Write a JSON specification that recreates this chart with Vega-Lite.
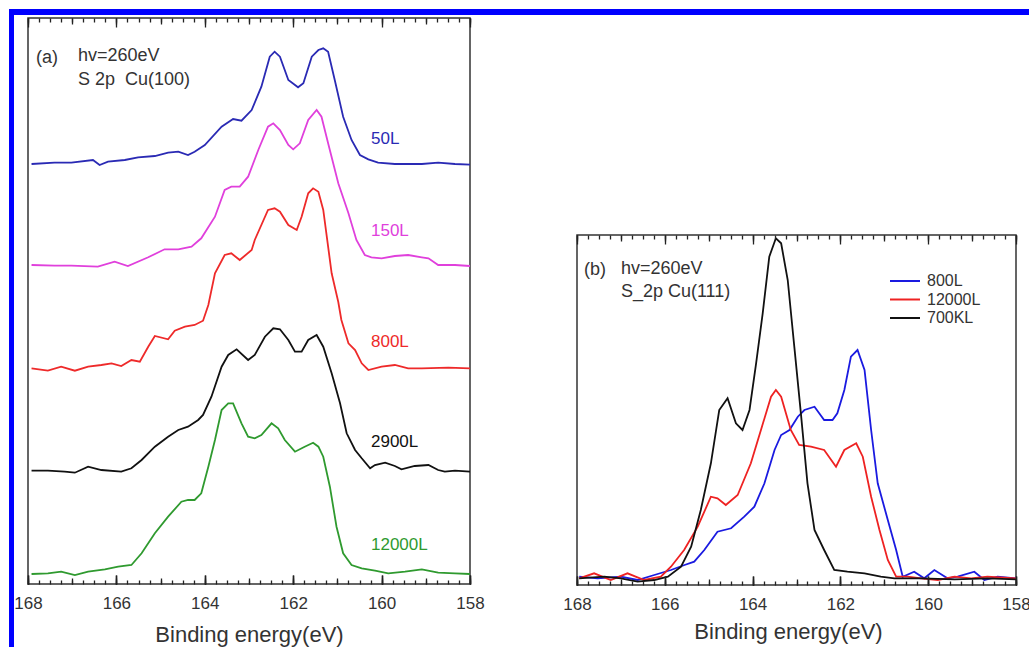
{
  "$schema": "https://vega.github.io/schema/vega-lite/v6.json",
  "padding": {"left": 8, "top": 9, "right": 0, "bottom": 0},
  "autosize": {"type": "pad"},
  "background": "white",
  "config": {
    "font": "Liberation Sans",
    "view": {"stroke": null},
    "concat": {"spacing": 0},
    "axis": {"tickColor": "#222222", "tickWidth": 1.5, "domain": false, "labelColor": "#333333", "titleColor": "#333333", "gridColor": "#222222", "gridWidth": 1.3, "gridOpacity": 1}
  },
  "datasets": {
    "a": [
      {"s":"50L","E":167.92,"I":420},{"s":"50L","E":167.40,"I":421.3},{"s":"50L","E":167.02,"I":421.3},{"s":"50L","E":166.53,"I":424},{"s":"50L","E":166.38,"I":419},{"s":"50L","E":166.19,"I":422.3},{"s":"50L","E":165.81,"I":424},{"s":"50L","E":165.51,"I":426.7},{"s":"50L","E":165.13,"I":428},{"s":"50L","E":164.83,"I":431.3},{"s":"50L","E":164.60,"I":432.3},{"s":"50L","E":164.38,"I":429},{"s":"50L","E":164.23,"I":432.3},{"s":"50L","E":164.00,"I":439},{"s":"50L","E":163.62,"I":457.3},{"s":"50L","E":163.36,"I":465},{"s":"50L","E":163.17,"I":463.3},{"s":"50L","E":162.94,"I":474},{"s":"50L","E":162.72,"I":497.3},{"s":"50L","E":162.53,"I":527.3},{"s":"50L","E":162.42,"I":532.3},{"s":"50L","E":162.30,"I":527.3},{"s":"50L","E":162.11,"I":504},{"s":"50L","E":161.89,"I":496.7},{"s":"50L","E":161.77,"I":500.7},{"s":"50L","E":161.58,"I":527.3},{"s":"50L","E":161.43,"I":534},{"s":"50L","E":161.32,"I":535.7},{"s":"50L","E":161.21,"I":532.3},{"s":"50L","E":161.06,"I":504},{"s":"50L","E":160.87,"I":467.3},{"s":"50L","E":160.68,"I":444},{"s":"50L","E":160.49,"I":429},{"s":"50L","E":160.30,"I":424.7},{"s":"50L","E":160.08,"I":421.3},{"s":"50L","E":159.70,"I":420},{"s":"50L","E":159.09,"I":420},{"s":"50L","E":158.72,"I":421.3},{"s":"50L","E":158.34,"I":420},{"s":"50L","E":158.00,"I":419.3},
      {"s":"150L","E":167.92,"I":319},{"s":"150L","E":167.40,"I":318.3},{"s":"150L","E":167.02,"I":318.3},{"s":"150L","E":166.42,"I":317.3},{"s":"150L","E":166.04,"I":322.3},{"s":"150L","E":165.74,"I":318},{"s":"150L","E":165.28,"I":326.7},{"s":"150L","E":164.91,"I":334.7},{"s":"150L","E":164.60,"I":334.7},{"s":"150L","E":164.30,"I":337.3},{"s":"150L","E":164.08,"I":345.7},{"s":"150L","E":163.77,"I":367.3},{"s":"150L","E":163.55,"I":394},{"s":"150L","E":163.40,"I":397.3},{"s":"150L","E":163.21,"I":397.3},{"s":"150L","E":163.02,"I":407.3},{"s":"150L","E":162.79,"I":434},{"s":"150L","E":162.57,"I":457.3},{"s":"150L","E":162.45,"I":460.7},{"s":"150L","E":162.30,"I":454},{"s":"150L","E":162.11,"I":439},{"s":"150L","E":162.00,"I":434.7},{"s":"150L","E":161.85,"I":440.7},{"s":"150L","E":161.66,"I":464},{"s":"150L","E":161.47,"I":474},{"s":"150L","E":161.36,"I":467.3},{"s":"150L","E":161.21,"I":440.7},{"s":"150L","E":160.98,"I":400.7},{"s":"150L","E":160.75,"I":370.7},{"s":"150L","E":160.57,"I":344},{"s":"150L","E":160.38,"I":329},{"s":"150L","E":160.23,"I":326.7},{"s":"150L","E":160.00,"I":325.7},{"s":"150L","E":159.70,"I":328},{"s":"150L","E":159.40,"I":329},{"s":"150L","E":159.09,"I":326.7},{"s":"150L","E":158.94,"I":325.7},{"s":"150L","E":158.72,"I":319},{"s":"150L","E":158.34,"I":319},{"s":"150L","E":158.00,"I":318},
      {"s":"800L","E":167.92,"I":215.7},{"s":"800L","E":167.55,"I":213.3},{"s":"800L","E":167.25,"I":217.3},{"s":"800L","E":166.94,"I":213.3},{"s":"800L","E":166.64,"I":217.3},{"s":"800L","E":166.34,"I":219},{"s":"800L","E":166.11,"I":220.7},{"s":"800L","E":165.89,"I":218},{"s":"800L","E":165.66,"I":224},{"s":"800L","E":165.47,"I":222.3},{"s":"800L","E":165.28,"I":237.3},{"s":"800L","E":165.13,"I":248},{"s":"800L","E":164.83,"I":244.7},{"s":"800L","E":164.68,"I":253.3},{"s":"800L","E":164.45,"I":257.3},{"s":"800L","E":164.23,"I":259},{"s":"800L","E":164.04,"I":263.3},{"s":"800L","E":163.92,"I":279},{"s":"800L","E":163.77,"I":310.7},{"s":"800L","E":163.55,"I":329},{"s":"800L","E":163.40,"I":330.7},{"s":"800L","E":163.21,"I":324},{"s":"800L","E":162.94,"I":334},{"s":"800L","E":162.87,"I":344},{"s":"800L","E":162.57,"I":374},{"s":"800L","E":162.42,"I":375.7},{"s":"800L","E":162.30,"I":372.3},{"s":"800L","E":162.11,"I":359},{"s":"800L","E":161.92,"I":354},{"s":"800L","E":161.81,"I":367.3},{"s":"800L","E":161.66,"I":390.7},{"s":"800L","E":161.55,"I":395.7},{"s":"800L","E":161.43,"I":392.3},{"s":"800L","E":161.32,"I":374},{"s":"800L","E":161.13,"I":310.7},{"s":"800L","E":160.98,"I":282},{"s":"800L","E":160.91,"I":264},{"s":"800L","E":160.75,"I":240.7},{"s":"800L","E":160.60,"I":234},{"s":"800L","E":160.45,"I":220.7},{"s":"800L","E":160.30,"I":214},{"s":"800L","E":160.00,"I":217.3},{"s":"800L","E":159.70,"I":219},{"s":"800L","E":159.40,"I":215.7},{"s":"800L","E":159.09,"I":215.7},{"s":"800L","E":158.49,"I":216.3},{"s":"800L","E":158.00,"I":215.7},
      {"s":"2900L","E":167.92,"I":113.3},{"s":"2900L","E":167.55,"I":113.3},{"s":"2900L","E":167.17,"I":112.3},{"s":"2900L","E":166.94,"I":111.3},{"s":"2900L","E":166.64,"I":117.3},{"s":"2900L","E":166.34,"I":114},{"s":"2900L","E":165.89,"I":112.3},{"s":"2900L","E":165.66,"I":115.7},{"s":"2900L","E":165.43,"I":124},{"s":"2900L","E":165.13,"I":137.3},{"s":"2900L","E":164.83,"I":147.3},{"s":"2900L","E":164.60,"I":154},{"s":"2900L","E":164.38,"I":157.3},{"s":"2900L","E":164.15,"I":164},{"s":"2900L","E":164.04,"I":169},{"s":"2900L","E":163.85,"I":187.3},{"s":"2900L","E":163.62,"I":217.3},{"s":"2900L","E":163.47,"I":229},{"s":"2900L","E":163.28,"I":234.7},{"s":"2900L","E":163.02,"I":224},{"s":"2900L","E":162.87,"I":229},{"s":"2900L","E":162.64,"I":247.3},{"s":"2900L","E":162.45,"I":255.7},{"s":"2900L","E":162.30,"I":254.7},{"s":"2900L","E":162.11,"I":244},{"s":"2900L","E":161.96,"I":232.3},{"s":"2900L","E":161.81,"I":232.3},{"s":"2900L","E":161.66,"I":244},{"s":"2900L","E":161.47,"I":249},{"s":"2900L","E":161.32,"I":237.3},{"s":"2900L","E":161.13,"I":210.7},{"s":"2900L","E":160.94,"I":180.7},{"s":"2900L","E":160.79,"I":150.7},{"s":"2900L","E":160.60,"I":134},{"s":"2900L","E":160.45,"I":125.7},{"s":"2900L","E":160.26,"I":115.7},{"s":"2900L","E":160.15,"I":119},{"s":"2900L","E":159.92,"I":121.3},{"s":"2900L","E":159.70,"I":118},{"s":"2900L","E":159.55,"I":114.7},{"s":"2900L","E":159.25,"I":118},{"s":"2900L","E":158.94,"I":119},{"s":"2900L","E":158.72,"I":114},{"s":"2900L","E":158.57,"I":112.3},{"s":"2900L","E":158.34,"I":113.3},{"s":"2900L","E":158.00,"I":112.3},
      {"s":"12000L","E":167.92,"I":10},{"s":"12000L","E":167.55,"I":10.7},{"s":"12000L","E":167.25,"I":12.3},{"s":"12000L","E":166.94,"I":9},{"s":"12000L","E":166.64,"I":12.3},{"s":"12000L","E":166.26,"I":14.7},{"s":"12000L","E":165.96,"I":17.3},{"s":"12000L","E":165.66,"I":19},{"s":"12000L","E":165.43,"I":30.7},{"s":"12000L","E":165.13,"I":50.7},{"s":"12000L","E":164.83,"I":67.3},{"s":"12000L","E":164.53,"I":82.3},{"s":"12000L","E":164.38,"I":84},{"s":"12000L","E":164.23,"I":84},{"s":"12000L","E":164.08,"I":90.7},{"s":"12000L","E":163.92,"I":117.3},{"s":"12000L","E":163.77,"I":144},{"s":"12000L","E":163.62,"I":174},{"s":"12000L","E":163.47,"I":180.7},{"s":"12000L","E":163.36,"I":180.7},{"s":"12000L","E":163.17,"I":160.7},{"s":"12000L","E":163.02,"I":147.3},{"s":"12000L","E":162.87,"I":145.7},{"s":"12000L","E":162.72,"I":149},{"s":"12000L","E":162.49,"I":160.7},{"s":"12000L","E":162.34,"I":155.7},{"s":"12000L","E":162.19,"I":144},{"s":"12000L","E":161.96,"I":132.3},{"s":"12000L","E":161.74,"I":137.3},{"s":"12000L","E":161.55,"I":141.3},{"s":"12000L","E":161.43,"I":137.3},{"s":"12000L","E":161.32,"I":127.3},{"s":"12000L","E":161.17,"I":97.3},{"s":"12000L","E":161.02,"I":57.3},{"s":"12000L","E":160.87,"I":30.7},{"s":"12000L","E":160.68,"I":19},{"s":"12000L","E":160.45,"I":15.7},{"s":"12000L","E":160.15,"I":13.3},{"s":"12000L","E":159.85,"I":10.7},{"s":"12000L","E":159.47,"I":12.3},{"s":"12000L","E":159.09,"I":14.7},{"s":"12000L","E":158.72,"I":11.3},{"s":"12000L","E":158.34,"I":10.7},{"s":"12000L","E":158.00,"I":10}
    ],
    "alab": [
      {"s":"50L","E":160.24,"I":445},
      {"s":"150L","E":160.24,"I":353},
      {"s":"800L","E":160.24,"I":242},
      {"s":"2900L","E":160.24,"I":142},
      {"s":"12000L","E":160.24,"I":39}
    ],
    "aanno": [
      {"t":"(a)","E":167.82,"I":526},
      {"t":"hv=260eV","E":166.87,"I":528},
      {"t":"S 2p\u00a0 Cu(100)","E":166.87,"I":504}
    ],
    "b": [
      {"s":"800L","E":167.95,"I":8.3},{"s":"800L","E":167.53,"I":6.7},{"s":"800L","E":167.00,"I":8.3},{"s":"800L","E":166.62,"I":5},{"s":"800L","E":166.24,"I":10},{"s":"800L","E":165.86,"I":15},{"s":"800L","E":165.55,"I":20},{"s":"800L","E":165.33,"I":23.3},{"s":"800L","E":165.10,"I":35},{"s":"800L","E":164.80,"I":53.3},{"s":"800L","E":164.49,"I":56.7},{"s":"800L","E":164.19,"I":68.3},{"s":"800L","E":163.96,"I":78.3},{"s":"800L","E":163.73,"I":101.7},{"s":"800L","E":163.50,"I":135},{"s":"800L","E":163.35,"I":150},{"s":"800L","E":163.16,"I":155},{"s":"800L","E":162.97,"I":168.3},{"s":"800L","E":162.82,"I":175},{"s":"800L","E":162.59,"I":178.3},{"s":"800L","E":162.37,"I":165},{"s":"800L","E":162.18,"I":165},{"s":"800L","E":162.07,"I":171.7},{"s":"800L","E":161.91,"I":195},{"s":"800L","E":161.76,"I":228.3},{"s":"800L","E":161.61,"I":235},{"s":"800L","E":161.45,"I":215},{"s":"800L","E":161.30,"I":155},{"s":"800L","E":161.15,"I":101.7},{"s":"800L","E":160.92,"I":65},{"s":"800L","E":160.73,"I":35},{"s":"800L","E":160.58,"I":8.3},{"s":"800L","E":160.32,"I":13.3},{"s":"800L","E":160.09,"I":6.7},{"s":"800L","E":159.86,"I":15},{"s":"800L","E":159.56,"I":6.7},{"s":"800L","E":159.33,"I":8.3},{"s":"800L","E":158.95,"I":13.3},{"s":"800L","E":158.72,"I":5},{"s":"800L","E":158.42,"I":8.3},{"s":"800L","E":158.00,"I":6.7},
      {"s":"12000L","E":167.95,"I":6.7},{"s":"12000L","E":167.61,"I":11.7},{"s":"12000L","E":167.23,"I":5},{"s":"12000L","E":166.85,"I":11.7},{"s":"12000L","E":166.47,"I":5},{"s":"12000L","E":166.09,"I":8.3},{"s":"12000L","E":165.86,"I":18.3},{"s":"12000L","E":165.56,"I":35},{"s":"12000L","E":165.25,"I":58.3},{"s":"12000L","E":164.95,"I":88.3},{"s":"12000L","E":164.80,"I":86.7},{"s":"12000L","E":164.61,"I":80},{"s":"12000L","E":164.34,"I":90},{"s":"12000L","E":164.04,"I":121.7},{"s":"12000L","E":163.81,"I":155},{"s":"12000L","E":163.58,"I":188.3},{"s":"12000L","E":163.47,"I":195},{"s":"12000L","E":163.35,"I":188.3},{"s":"12000L","E":163.13,"I":155},{"s":"12000L","E":162.94,"I":140},{"s":"12000L","E":162.67,"I":138.3},{"s":"12000L","E":162.37,"I":135},{"s":"12000L","E":162.10,"I":118.3},{"s":"12000L","E":161.91,"I":135},{"s":"12000L","E":161.64,"I":141.7},{"s":"12000L","E":161.49,"I":128.3},{"s":"12000L","E":161.30,"I":88.3},{"s":"12000L","E":161.11,"I":55},{"s":"12000L","E":160.92,"I":25},{"s":"12000L","E":160.73,"I":8.3},{"s":"12000L","E":160.47,"I":8.3},{"s":"12000L","E":160.16,"I":6.7},{"s":"12000L","E":159.78,"I":5},{"s":"12000L","E":159.40,"I":8.3},{"s":"12000L","E":159.02,"I":6.7},{"s":"12000L","E":158.65,"I":8.3},{"s":"12000L","E":158.00,"I":6.7},
      {"s":"700KL","E":167.95,"I":6.7},{"s":"700KL","E":167.38,"I":8.3},{"s":"700KL","E":167.00,"I":6.7},{"s":"700KL","E":166.62,"I":3.3},{"s":"700KL","E":166.24,"I":5},{"s":"700KL","E":165.93,"I":8.3},{"s":"700KL","E":165.63,"I":18.3},{"s":"700KL","E":165.40,"I":38.3},{"s":"700KL","E":165.18,"I":75},{"s":"700KL","E":164.95,"I":121.7},{"s":"700KL","E":164.76,"I":175},{"s":"700KL","E":164.57,"I":186.7},{"s":"700KL","E":164.38,"I":161.7},{"s":"700KL","E":164.23,"I":155},{"s":"700KL","E":164.07,"I":175},{"s":"700KL","E":163.92,"I":221.7},{"s":"700KL","E":163.77,"I":271.7},{"s":"700KL","E":163.62,"I":328.3},{"s":"700KL","E":163.47,"I":346.7},{"s":"700KL","E":163.35,"I":341.7},{"s":"700KL","E":163.20,"I":305},{"s":"700KL","E":163.05,"I":238.3},{"s":"700KL","E":162.90,"I":171.7},{"s":"700KL","E":162.75,"I":101.7},{"s":"700KL","E":162.59,"I":55},{"s":"700KL","E":162.37,"I":35},{"s":"700KL","E":162.14,"I":15},{"s":"700KL","E":161.84,"I":13.3},{"s":"700KL","E":161.45,"I":11.7},{"s":"700KL","E":161.08,"I":8.3},{"s":"700KL","E":160.77,"I":6.7},{"s":"700KL","E":160.16,"I":6.7},{"s":"700KL","E":159.40,"I":5.7},{"s":"700KL","E":158.65,"I":6.7},{"s":"700KL","E":158.00,"I":5.7}
    ],
    "banno": [
      {"t":"(b)","E":167.84,"I":315},
      {"t":"hv=260eV","E":167.0,"I":316},
      {"t":"S_2p Cu(111)","E":167.0,"I":293}
    ],
    "pt": [{"E":163, "I":100}]
  },
  "bounds": "flush",
  "spacing": 0,
  "resolve": {"scale": {"color": "independent"}, "legend": {"color": "independent"}},
  "hconcat": [
    {
      "width": 5, "height": 638,
      "data": {"values": [{}]},
      "mark": {"type": "point", "opacity": 0},
      "view": {"fill": "#0000ff", "stroke": null}
    },
    {
      "bounds": "flush",
      "spacing": 3,
      "resolve": {"scale": {"color": "independent"}, "legend": {"color": "independent"}},
      "vconcat": [
        {
          "width": 1016, "height": 6,
          "data": {"values": [{}]},
          "mark": {"type": "point", "opacity": 0},
          "view": {"fill": "#0000ff", "stroke": null}
        },
        {
          "bounds": "flush",
          "spacing": 0,
          "resolve": {"scale": {"color": "independent"}, "legend": {"color": "independent"}},
          "hconcat": [
            {
              "width": 14, "height": 10,
              "data": {"values": [{}]},
              "mark": {"type": "point", "opacity": 0},
              "view": {"stroke": null}
            },
            {
              "width": 442, "height": 566,
              "view": {"stroke": "#333333", "strokeWidth": 1.5, "fill": null},
              "resolve": {"axis": {"x": "independent"}},
              "layer": [
                {
                  "data": {"name": "a"},
                  "mark": {"type": "line", "strokeWidth": 1.8},
                  "encoding": {
                    "x": {"field": "E", "type": "quantitative",
                      "scale": {"domain": [158, 168], "reverse": true, "nice": false, "zero": false},
                      "axis": {"orient": "bottom", "offset": -9, "tickSize": 9, "ticks": true, "zindex": 1,
                        "grid": true, "gridDash": [9, 548],
                        "values": [158, 160, 162, 164, 166, 168], "format": "d",
                        "labelOverlap": false, "labelFlush": false, "labelBound": false,
                        "labelFontSize": 17, "labelPadding": 11,
                        "title": "Binding energy(eV)", "titleFontSize": 22, "titleFontWeight": "normal",
                        "titlePadding": 13
                      }},
                    "y": {"field": "I", "type": "quantitative", "scale": {"domain": [0, 566], "nice": false, "zero": false}, "axis": null},
                    "color": {"field": "s", "type": "nominal",
                      "scale": {"domain": ["50L", "150L", "800L", "2900L", "12000L"], "range": ["#2a2ab4", "#e040dc", "#ee2a2a", "#111111", "#2f9a2f"]},
                      "legend": null}
                  }
                },
                {
                  "data": {"name": "pt"},
                  "mark": {"type": "point", "opacity": 0},
                  "encoding": {"y": {"field": "I", "type": "quantitative", "axis": null},
                    "x": {"field": "E", "type": "quantitative",
                    "axis": {"orient": "bottom", "ticks": false, "labels": false, "title": null, "zindex": 1,
                      "grid": true, "gridDash": [6, 554],
                      "values": [158,159,160,161,162,163,164,165,166,167,168]}}}
                },
                {
                  "data": {"name": "pt"},
                  "mark": {"type": "point", "opacity": 0},
                  "encoding": {"y": {"field": "I", "type": "quantitative", "axis": null},
                    "x": {"field": "E", "type": "quantitative",
                    "axis": {"orient": "bottom", "ticks": false, "labels": false, "title": null, "zindex": 1,
                      "grid": true, "gridDash": [4, 558],
                      "values": [158,158.25,158.5,158.75,159,159.25,159.5,159.75,160,160.25,160.5,160.75,161,161.25,161.5,161.75,162,162.25,162.5,162.75,163,163.25,163.5,163.75,164,164.25,164.5,164.75,165,165.25,165.5,165.75,166,166.25,166.5,166.75,167,167.25,167.5,167.75,168]}}}
                },
                {
                  "data": {"name": "alab"},
                  "mark": {"type": "text", "align": "left", "baseline": "middle", "fontSize": 17},
                  "encoding": {
                    "x": {"field": "E", "type": "quantitative", "axis": null},
                    "y": {"field": "I", "type": "quantitative", "axis": null},
                    "text": {"field": "s"},
                    "color": {"field": "s", "type": "nominal", "legend": null}
                  }
                },
                {
                  "data": {"name": "aanno"},
                  "mark": {"type": "text", "align": "left", "baseline": "middle", "fontSize": 18, "color": "#333333"},
                  "encoding": {
                    "x": {"field": "E", "type": "quantitative", "axis": null},
                    "y": {"field": "I", "type": "quantitative", "axis": null},
                    "text": {"field": "t"}
                  }
                }
              ]
            },
            {
              "width": 107, "height": 10,
              "data": {"values": [{}]},
              "mark": {"type": "point", "opacity": 0},
              "view": {"stroke": null}
            },
            {
              "bounds": "flush",
              "spacing": 0,
              "vconcat": [
                {
                  "width": 439, "height": 217,
                  "data": {"values": [{}]},
                  "mark": {"type": "point", "opacity": 0},
                  "view": {"stroke": null}
                },
                {
                  "width": 439, "height": 350,
                  "view": {"stroke": "#333333", "strokeWidth": 1.5, "fill": null},
                  "resolve": {"axis": {"x": "independent"}},
                  "layer": [
                    {
                      "data": {"name": "b"},
                      "mark": {"type": "line", "strokeWidth": 1.8},
                      "encoding": {
                        "x": {"field": "E", "type": "quantitative",
                          "scale": {"domain": [158, 168], "reverse": true, "nice": false, "zero": false},
                          "axis": {"orient": "bottom", "offset": -9, "tickSize": 9, "ticks": true, "zindex": 1,
                            "grid": true, "gridDash": [9, 332],
                            "values": [158, 160, 162, 164, 166, 168], "format": "d",
                            "labelOverlap": false, "labelFlush": false, "labelBound": false,
                            "labelFontSize": 17, "labelPadding": 11,
                            "title": "Binding energy(eV)", "titleFontSize": 22, "titleFontWeight": "normal",
                            "titlePadding": 9, "titleX": 211
                          }},
                        "y": {"field": "I", "type": "quantitative", "scale": {"domain": [0, 350], "nice": false, "zero": false}, "axis": null},
                        "color": {"field": "s", "type": "nominal",
                          "scale": {"domain": ["800L", "12000L", "700KL"], "range": ["#1a1ae0", "#ee2222", "#111111"]},
                          "legend": {"orient": "none", "legendX": 320, "legendY": 255, "title": null,
                            "symbolType": "M-3,0H3", "symbolSize": 100, "symbolStrokeWidth": 2,
                            "labelFontSize": 16, "labelColor": "#333333", "labelOffset": 14,
                            "rowPadding": 2.5, "padding": 0}}
                      }
                    },
                    {
                      "data": {"name": "pt"},
                      "mark": {"type": "point", "opacity": 0},
                      "encoding": {"y": {"field": "I", "type": "quantitative", "axis": null},
                        "x": {"field": "E", "type": "quantitative",
                        "axis": {"orient": "bottom", "ticks": false, "labels": false, "title": null, "zindex": 1,
                          "grid": true, "gridDash": [6, 338],
                          "values": [158,159,160,161,162,163,164,165,166,167,168]}}}
                    },
                    {
                      "data": {"name": "pt"},
                      "mark": {"type": "point", "opacity": 0},
                      "encoding": {"y": {"field": "I", "type": "quantitative", "axis": null},
                        "x": {"field": "E", "type": "quantitative",
                        "axis": {"orient": "bottom", "ticks": false, "labels": false, "title": null, "zindex": 1,
                          "grid": true, "gridDash": [4, 342],
                          "values": [158,158.25,158.5,158.75,159,159.25,159.5,159.75,160,160.25,160.5,160.75,161,161.25,161.5,161.75,162,162.25,162.5,162.75,163,163.25,163.5,163.75,164,164.25,164.5,164.75,165,165.25,165.5,165.75,166,166.25,166.5,166.75,167,167.25,167.5,167.75,168]}}}
                    },
                    {
                      "data": {"name": "banno"},
                      "mark": {"type": "text", "align": "left", "baseline": "middle", "fontSize": 18, "color": "#333333"},
                      "encoding": {
                        "x": {"field": "E", "type": "quantitative", "axis": null},
                        "y": {"field": "I", "type": "quantitative", "axis": null},
                        "text": {"field": "t"}
                      }
                    }
                  ]
                }
              ]
            }
          ]
        }
      ]
    }
  ]
}
